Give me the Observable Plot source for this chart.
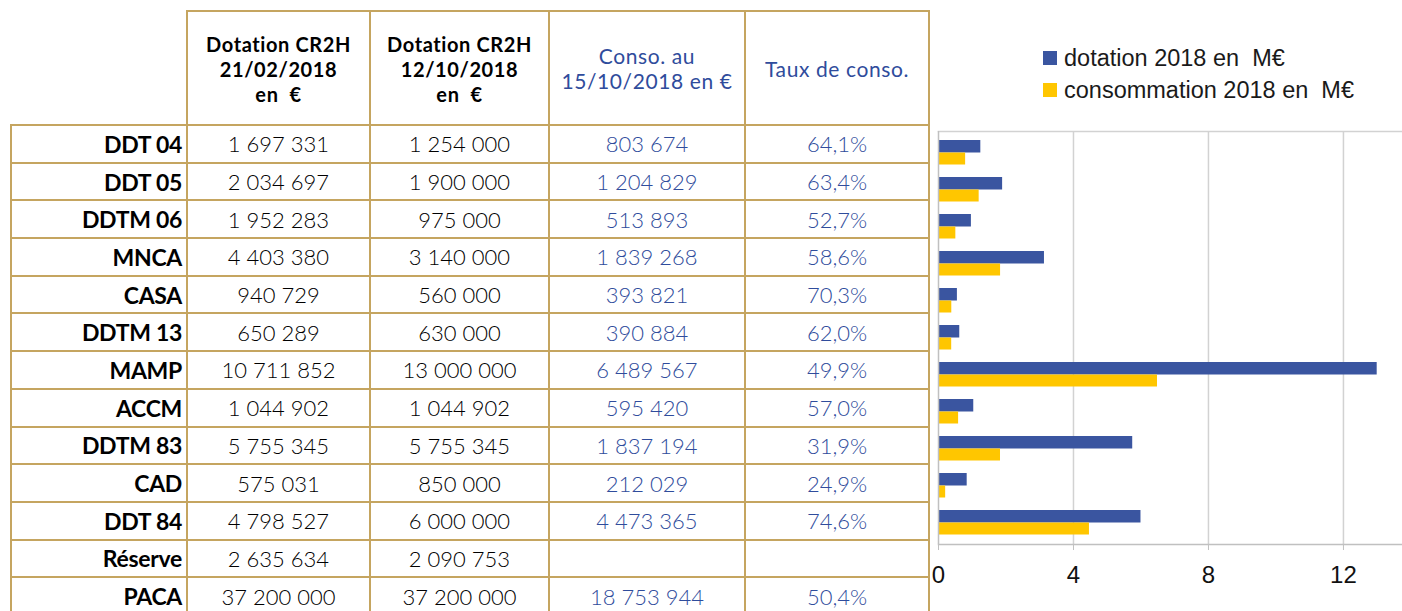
<!DOCTYPE html>
<html><head><meta charset="utf-8">
<script src="https://cdn.jsdelivr.net/npm/d3@7"></script>
<script src="https://cdn.jsdelivr.net/npm/@observablehq/plot@0.6"></script>
<style>
body{margin:0;background:#fff;width:1402px;height:611px;overflow:hidden;position:relative;font-family:Lato,"Open Sans",sans-serif;}
#tbl{position:absolute;left:10px;top:10px;border-collapse:collapse;table-layout:fixed;}
#tbl td{border:2px solid #C5A560;padding:0;text-align:center;font-size:22px;font-weight:300;color:#000;white-space:nowrap;vertical-align:middle;}
#tbl tr.body{height:37.7px;}
#tbl tr.head{height:114px;}
#tbl td.lab{text-align:right;padding-right:4px;font-weight:700;font-size:23px;letter-spacing:-0.3px;}
#tbl td.blue{color:#2F4C9C;}
#tbl td.h{font-weight:700;font-size:20px;line-height:25px;letter-spacing:0.6px;padding-top:2px;}
#tbl td.hb{font-size:21px;line-height:25px;color:#2F4C9C;font-weight:400;letter-spacing:0.6px;}
#tbl td.empty{border-top:none;border-left:none;}
#chart{position:absolute;left:928px;top:121px;}
#legend{position:absolute;left:1043px;top:42px;font-family:"Liberation Sans",Arial,sans-serif;font-size:23.5px;color:#1a1a1a;}
#legend .it{display:flex;align-items:center;height:32px;}
#legend .sw{width:14px;height:14px;margin-right:7px;}
</style>
</head><body>
<table id="tbl"></table>
<div id="legend"></div>
<div id="chart"></div>
<script>
const categories = ["DDT 04","DDT 05","DDTM 06","MNCA","CASA","DDTM 13","MAMP","ACCM","DDTM 83","CAD","DDT 84","Réserve","PACA"];
const dotation0221 = [1697331,2034697,1952283,4403380,940729,650289,10711852,1044902,5755345,575031,4798527,2635634,37200000];
const dotation1012 = [1254000,1900000,975000,3140000,560000,630000,13000000,1044902,5755345,850000,6000000,2090753,37200000];
const conso = [803674,1204829,513893,1839268,393821,390884,6489567,595420,1837194,212029,4473365,null,18753944];
const taux = ["64,1%","63,4%","52,7%","58,6%","70,3%","62,0%","49,9%","57,0%","31,9%","24,9%","74,6%","","50,4%"];
const headers = [["Dotation CR2H","21/02/2018","en  €"],["Dotation CR2H","12/10/2018","en  €"],["Conso. au","15/10/2018 en €"],["Taux de conso."]];
const chartCategories = categories.slice(0, 11);
const seriesNames = ["dotation 2018 en  M€","consommation 2018 en  M€"];
const seriesColors = ["#3A55A0","#FFC600"];
const xTicks = [0,4,8,12];

// table
const fmt = d3.formatLocale({decimal:",",thousands:" ",grouping:[3]}).format(",d");
const tbl = document.getElementById("tbl");
const colW = [176,183,179,196,184];
const cg = document.createElement("colgroup");
colW.forEach(w=>{const c=document.createElement("col");c.style.width=w+"px";cg.appendChild(c);});
tbl.appendChild(cg);
let hr = document.createElement("tr"); hr.className="head";
let e = document.createElement("td"); e.className="empty"; hr.appendChild(e);
headers.forEach((h,i)=>{const td=document.createElement("td");td.className=i<2?"h":"hb";td.innerHTML=h.map(s=>s.replace(/  /g," &nbsp;")).join("<br>");hr.appendChild(td);});
tbl.appendChild(hr);
categories.forEach((c,i)=>{
  const tr=document.createElement("tr");tr.className="body";
  const cells=[[c,"lab"],[fmt(dotation0221[i]),""],[fmt(dotation1012[i]),""],[conso[i]==null?"":fmt(conso[i]),"blue"],[taux[i],"blue"]];
  cells.forEach(([t,cl])=>{const td=document.createElement("td");td.className=cl;td.textContent=t;tr.appendChild(td);});
  tbl.appendChild(tr);
});

// legend
const lg=document.getElementById("legend");
seriesNames.forEach((n,i)=>{const d=document.createElement("div");d.className="it";d.innerHTML=`<div class="sw" style="background:${seriesColors[i]}"></div><span>${n.replace(/  /g," &nbsp;")}</span>`;lg.appendChild(d);});

// chart
const data = chartCategories.map((c,i)=>({cat:c, dot:dotation1012[i]/1e6, conso:conso[i]/1e6}));
const chart = Plot.plot({
  width:474, height:480, marginLeft:10, marginRight:0, marginTop:10, marginBottom:57,
  style:{fontFamily:"'Liberation Sans', Arial, sans-serif", fontSize:"24px", color:"#111", background:"transparent", overflow:"visible"},
  x:{domain:[0,13.75]},
  y:{domain:chartCategories, padding:0, axis:null},
  marks:[
    Plot.ruleX(xTicks.slice(1),{stroke:"#d2d2d2",strokeWidth:1.5}),
    Plot.frame({anchor:"top",stroke:"#d2d2d2",strokeWidth:1.5}),
    Plot.barX(data,{x:"dot",y:"cat",fill:seriesColors[0],insetTop:6,insetBottom:18.5}),
    Plot.barX(data,{x:"conso",y:"cat",fill:seriesColors[1],insetTop:18.5,insetBottom:6.5}),
    Plot.ruleX([0],{stroke:"#c0c0c0",strokeWidth:1.5}),
    Plot.frame({anchor:"bottom",stroke:"#c0c0c0",strokeWidth:1.5}),
    Plot.axisX({ticks:xTicks,tickSize:6,tickPadding:15,fontSize:24,stroke:"#c0c0c0",fill:"#111",label:null,tickFormat:d=>d})
  ]
});
document.getElementById("chart").appendChild(chart);
</script>
</body></html>
